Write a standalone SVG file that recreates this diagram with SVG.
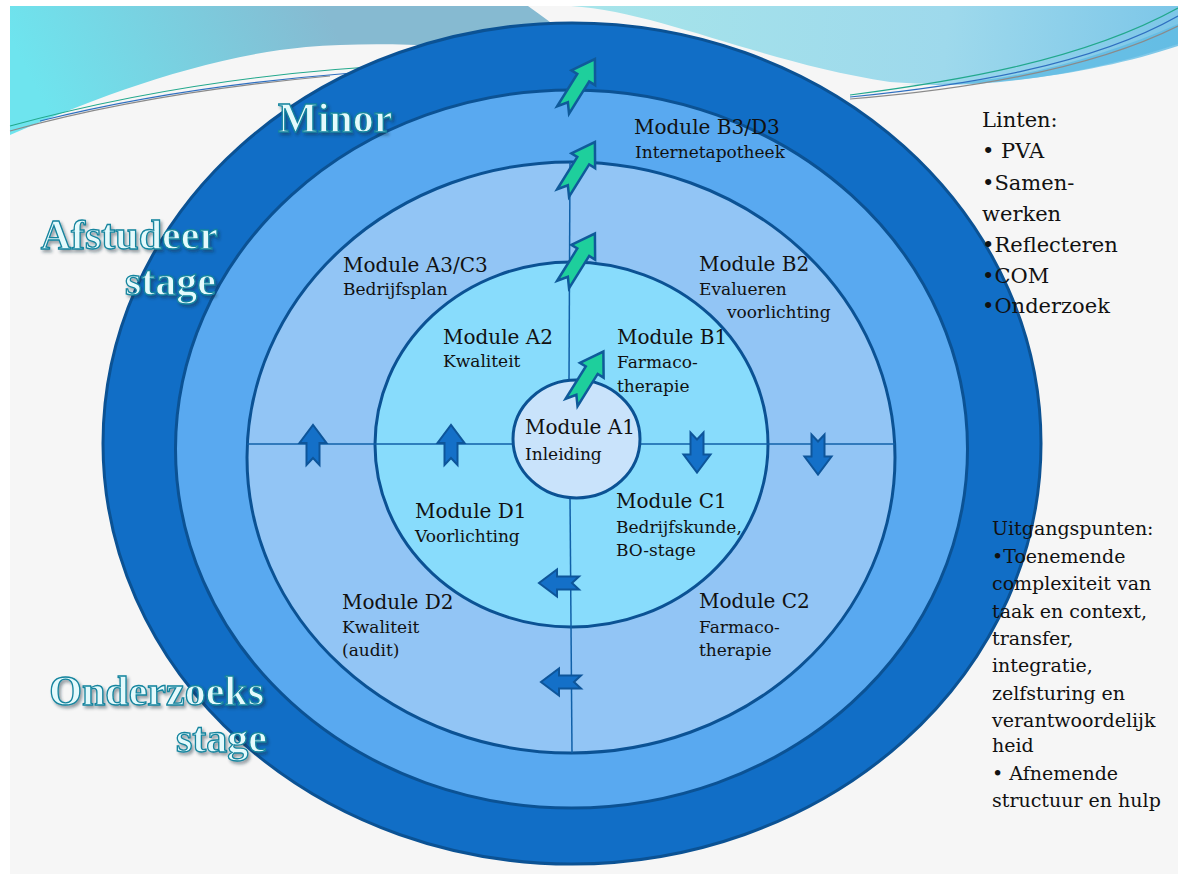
<svg xmlns="http://www.w3.org/2000/svg" xmlns:xlink="http://www.w3.org/1999/xlink" width="1178" height="874" viewBox="0 0 1178 874">
<defs>
<style>
.ring{stroke:#0B5294;stroke-width:3}
.mt{font-family:"DejaVu Serif","Liberation Serif",serif;font-size:20px;fill:#111}
.ms{font-family:"DejaVu Serif","Liberation Serif",serif;font-size:17px;fill:#111}
.side1{font-family:"DejaVu Serif","Liberation Serif",serif;font-size:21px;fill:#111}
.side2{font-family:"DejaVu Serif","Liberation Serif",serif;font-size:19px;fill:#111}
.title{font-family:"Liberation Serif","DejaVu Serif",serif;font-weight:bold;font-size:42px;fill:#E4FAFC;stroke:#14849E;stroke-width:1.3;filter:url(#sh)}
.div{stroke:#1060A8;stroke-width:1.5;fill:none}
.ga{fill:#1ECF9C;stroke:#0F5A9A;stroke-width:2.5;stroke-linejoin:miter}
.ba{fill:#1470C8;stroke:#0D559A;stroke-width:2;stroke-linejoin:miter}
.thin{fill:none;stroke-width:1.2}
</style>
<filter id="sh" x="-10%" y="-20%" width="130%" height="160%">
<feDropShadow dx="2" dy="2.5" stdDeviation="1.5" flood-color="#1A2A3A" flood-opacity="0.45"/>
</filter>
<linearGradient id="lb" gradientUnits="userSpaceOnUse" x1="320" y1="0" x2="60" y2="135">
<stop offset="0" stop-color="#86BAD1"/>
<stop offset="1" stop-color="#6EE4EE"/>
</linearGradient>
<linearGradient id="rb" gradientUnits="userSpaceOnUse" x1="600" y1="0" x2="1178" y2="60">
<stop offset="0" stop-color="#A6E4EA"/>
<stop offset="0.6" stop-color="#9ED9EC"/>
<stop offset="1" stop-color="#7CC6E8"/>
</linearGradient>
<path id="garrow" d="M-30,-7 L8,-7 L8,-14 L30,0 L8,14 L8,7 L-30,7 L-21,0 Z"/>
<path id="barrow" d="M-20,-6.5 L2,-6.5 L2,-13.5 L20,0 L2,13.5 L2,6.5 L-20,6.5 L-13,0 Z"/>
</defs>

<g id="background">
<rect x="0" y="0" width="1178" height="874" fill="#FFFFFF"/>
<rect x="10" y="6" width="1168" height="868" fill="#F6F6F6"/>
<path d="M10,6 H528 C555,25 580,45 610,68 C500,46 390,40 306,47 C200,57 90,100 10,135 Z" fill="url(#lb)"/>
<path d="M571,6 H1178 V46 C1100,72 990,90 890,82 C760,62 660,12 571,6 Z" fill="url(#rb)"/>
<path d="M900,84 C1000,88 1100,58 1178,24 V44 C1100,70 1000,90 900,84 Z" fill="#5CB9E3" opacity="0.75"/>
<path class="thin" stroke="#8A8A8A" d="M10,131 C100,106 200,88 330,76"/>
<path class="thin" stroke="#22A88C" d="M10,126 C120,96 260,70 430,64"/>
<path class="thin" stroke="#2F6FC0" d="M40,121 C140,96 270,76 430,68"/>
<path class="thin" stroke="#8A8A8A" d="M850,99 C960,90 1090,70 1178,26"/>
<path class="thin" stroke="#22A88C" d="M850,95 C950,82 1080,62 1178,8"/>
<path class="thin" stroke="#2F6FC0" d="M850,97 C960,86 1090,66 1178,16"/>
</g>

<g id="ring-minor">
<ellipse class="ring" cx="572" cy="443.5" rx="469" ry="420.5" fill="#116EC6"/>
</g>
<g id="ring-3">
<ellipse class="ring" cx="571.5" cy="449" rx="396" ry="359" fill="#59A9F0"/>
</g>
<g id="ring-2">
<ellipse class="ring" cx="571" cy="457.5" rx="324" ry="295.5" fill="#92C5F5"/>
</g>
<g id="ring-1">
<ellipse class="ring" cx="571.5" cy="444.5" rx="196.5" ry="182.5" fill="#88DCFC"/>
</g>

<g id="connectors">
<line class="div" x1="247" y1="444" x2="895" y2="444"/>
<line class="div" x1="570" y1="162" x2="569" y2="382"/>
<line class="div" x1="570" y1="496" x2="572" y2="753"/>
</g>

<g id="module-a1">
<ellipse class="ring" cx="576.5" cy="439" rx="63.5" ry="59" fill="#C9E3FB"/>
<text class="mt" x="525" y="434">Module A1</text>
<text class="ms" x="525" y="460">Inleiding</text>
</g>

<g id="arrows">
<use href="#garrow" class="ga" transform="translate(579,84.5) rotate(-58)"/>
<use href="#garrow" class="ga" transform="translate(579,167.5) rotate(-58)"/>
<use href="#garrow" class="ga" transform="translate(579,259) rotate(-58)"/>
<use href="#garrow" class="ga" transform="translate(587.5,377) rotate(-58)"/>
<use href="#barrow" class="ba" transform="translate(313,445) rotate(-90)"/>
<use href="#barrow" class="ba" transform="translate(451,445) rotate(-90)"/>
<use href="#barrow" class="ba" transform="translate(697,452.5) rotate(90)"/>
<use href="#barrow" class="ba" transform="translate(818,454.5) rotate(90)"/>
<use href="#barrow" class="ba" transform="translate(559,583) rotate(180)"/>
<use href="#barrow" class="ba" transform="translate(561,682) rotate(180)"/>
</g>

<g id="module-b3d3">
<text class="mt" x="634" y="134">Module B3/D3</text>
<text class="ms" x="635" y="158">Internetapotheek</text>
</g>
<g id="module-a3c3">
<text class="mt" x="343" y="272">Module A3/C3</text>
<text class="ms" x="343" y="295">Bedrijfsplan</text>
</g>
<g id="module-b2">
<text class="mt" x="699" y="271">Module B2</text>
<text class="ms" x="699" y="295">Evalueren</text>
<text class="ms" x="727" y="318">voorlichting</text>
</g>
<g id="module-a2">
<text class="mt" x="443" y="344">Module A2</text>
<text class="ms" x="443" y="367">Kwaliteit</text>
</g>
<g id="module-b1">
<text class="mt" x="617" y="344">Module B1</text>
<text class="ms" x="617" y="368">Farmaco-</text>
<text class="ms" x="617" y="392">therapie</text>
</g>
<g id="module-d1">
<text class="mt" x="415" y="518">Module D1</text>
<text class="ms" x="415" y="542">Voorlichting</text>
</g>
<g id="module-c1">
<text class="mt" x="616" y="508">Module C1</text>
<text class="ms" x="616" y="533">Bedrijfskunde,</text>
<text class="ms" x="616" y="556">BO-stage</text>
</g>
<g id="module-d2">
<text class="mt" x="342" y="609">Module D2</text>
<text class="ms" x="342" y="633">Kwaliteit</text>
<text class="ms" x="342" y="656">(audit)</text>
</g>
<g id="module-c2">
<text class="mt" x="699" y="608">Module C2</text>
<text class="ms" x="699" y="633">Farmaco-</text>
<text class="ms" x="699" y="656">therapie</text>
</g>

<g id="titles">
<text class="title" x="278" y="132">Minor</text>
<text class="title" x="218" y="249" text-anchor="end">Afstudeer</text>
<text class="title" x="216" y="295" text-anchor="end">stage</text>
<text class="title" x="264" y="705" text-anchor="end">Onderzoeks</text>
<text class="title" x="267" y="752" text-anchor="end">stage</text>
</g>

<g id="linten">
<text class="side1" x="982" y="127">Linten:</text>
<text class="side1" x="982" y="158">• PVA</text>
<text class="side1" x="982" y="190">•Samen-</text>
<text class="side1" x="982" y="221">werken</text>
<text class="side1" x="982" y="252">•Reflecteren</text>
<text class="side1" x="982" y="283">•COM</text>
<text class="side1" x="982" y="313">•Onderzoek</text>
</g>

<g id="uitgangspunten">
<text class="side2" x="992" y="535">Uitgangspunten:</text>
<text class="side2" x="992" y="563">•Toenemende</text>
<text class="side2" x="992" y="590">complexiteit van</text>
<text class="side2" x="992" y="618">taak en context,</text>
<text class="side2" x="992" y="645">transfer,</text>
<text class="side2" x="992" y="672">integratie,</text>
<text class="side2" x="992" y="700">zelfsturing en</text>
<text class="side2" x="992" y="727">verantwoordelijk</text>
<text class="side2" x="992" y="752">heid</text>
<text class="side2" x="992" y="780">• Afnemende</text>
<text class="side2" x="992" y="807">structuur en hulp</text>
</g>
</svg>
